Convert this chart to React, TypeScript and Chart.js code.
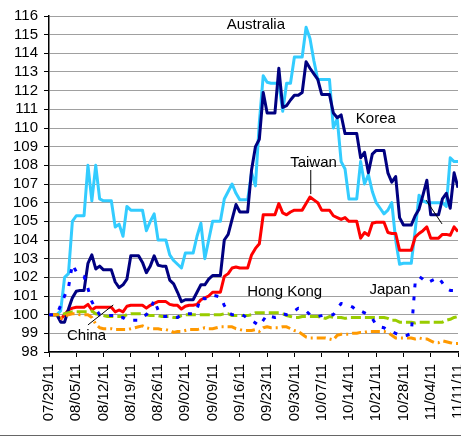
import React, { useEffect, useRef } from 'react';
import { Chart, registerables } from 'chart.js';

Chart.register(...registerables);

const FONT = "'Liberation Sans', Arial, Helvetica, sans-serif";

// Weekly tick labels (one every 7 calendar days, 07/29/11 .. 11/11/11)
const weekLabels = [
  '07/29/11', '08/05/11', '08/12/11', '08/19/11', '08/26/11', '09/02/11', '09/09/11', '09/16/11',
  '09/23/11', '09/30/11', '10/07/11', '10/14/11', '10/21/11', '10/28/11', '11/04/11', '11/11/11',
];

// Daily index values (calendar days from 07/29/11)
const australia = [
  100, 100, 100, 100.2, 102.0, 102.2, 105.0, 105.3, 105.3, 105.3,
  108.0, 106.1, 108.0, 106.2, 106.1, 106.1, 106.1, 104.7, 104.85, 104.2,
  105.8, 105.6, 105.6, 105.6, 105.6, 104.5, 105.0, 105.4, 104.0, 104.0,
  104.0, 103.2, 102.9, 102.7, 102.5, 103.3, 103.3, 103.3, 104.2, 104.9,
  103.0, 104.0, 105.0, 105.0, 105.0, 106.2, 106.6, 107.0, 106.5, 106.15,
  106.15, 106.15, 107.6, 106.9, 110.3, 112.8, 112.45, 112.4, 112.4, 112.4,
  110.9, 112.4, 112.4, 113.8, 113.8, 113.8, 115.4, 114.8, 113.6, 112.6,
  112.6, 112.6, 112.6, 110.0, 110.5, 108.2, 107.8, 106.2, 106.2, 106.2,
  108.2, 107.0, 107.5, 106.6, 106.0, 105.7, 105.4, 105.6, 106.0, 104.0,
  102.7, 102.75, 102.75, 102.75, 104.5, 106.4, 106.1, 106.0, 106.0, 106.0,
  106.0, 106.0, 105.8, 108.4, 108.2, 108.2,
];

const korea = [
  100, 100, 100, 99.6, 99.6, 100.3, 100.9, 101.25, 101.3, 101.3,
  102.75, 103.2, 102.45, 102.6, 102.4, 102.4, 102.4, 101.75, 101.45, 101.6,
  101.9, 103.15, 103.15, 103.15, 102.8, 102.25, 102.6, 103.15, 102.65, 102.6,
  102.6, 101.85, 101.65, 101.2, 100.7, 100.8, 100.8, 100.8, 101.2, 101.6,
  101.6, 101.9, 102.1, 102.1, 102.1, 104.0, 104.3, 105.1, 105.9, 105.5,
  105.5, 105.5, 107.75, 109.0, 109.4, 111.9, 110.8, 110.8, 110.8, 113.2,
  111.1, 111.2, 111.5, 111.75, 111.75, 111.9, 113.55, 113.2, 112.9, 112.6,
  111.8, 111.8, 111.8, 110.8, 110.55, 110.7, 109.7, 109.7, 109.7, 109.7,
  108.4, 108.7, 107.6, 108.6, 108.8, 108.8, 108.8, 107.6, 107.1, 107.4,
  105.2, 104.8, 104.8, 104.8, 105.3, 105.65, 106.4, 107.2, 105.35, 105.35,
  105.35, 106.2, 106.5, 105.7, 107.6, 106.8,
];

const taiwan = [
  100, 100, 100, 99.75, 100.0, 100.25, 100.35, 100.4, 100.4, 100.4,
  100.55, 100.25, 100.4, 100.4, 100.4, 100.4, 100.4, 100.15, 100.25, 100.15,
  100.45, 100.5, 100.5, 100.5, 100.5, 100.35, 100.5, 100.6, 100.7, 100.7,
  100.7, 100.55, 100.5, 100.5, 100.3, 100.45, 100.5, 100.5, 100.55, 100.8,
  100.9, 101.0, 101.2, 101.2, 101.2, 102.05, 102.2, 102.5, 102.55, 102.5,
  102.5, 102.5, 103.2, 103.55, 103.8, 105.35, 105.35, 105.35, 105.35, 105.95,
  105.45, 105.35, 105.5, 105.6, 105.6, 105.6, 105.95, 106.3, 106.15, 106.0,
  105.6, 105.6, 105.6, 105.3, 105.2, 105.1, 105.2, 105.0, 105.0, 105.0,
  104.1, 104.4, 104.25, 104.9, 104.95, 104.95, 104.95, 104.4, 104.35, 104.35,
  103.45, 103.45, 103.45, 103.45, 104.15, 104.35, 104.5, 104.7, 104.1, 104.1,
  104.1, 104.3, 104.3, 104.25, 104.7, 104.45,
];

const japan = [
  100, 100, 100, 100.5, 101.0, 101.45, 102.7, 102.3, 102.1, 102.05,
  101.4, 100.7, 100.3, 100.0, 100.0, 99.95, 99.95, 99.95, 99.8, 99.85,
  99.7, 99.7, 99.7, 99.7, 99.9, 100.0, 100.25, 100.8, 100.25, 99.9,
  99.9, 99.95, 99.9, 99.85, 100.0, 100.05, 100.05, 100.05, 100.3, 100.95,
  100.85, 100.9, 101.05, 101.0, 100.95, 100.5, 100.1, 100.0, 100.0, 100.05,
  99.95, 99.8, 99.7, 99.55, 99.4, 99.7, 100.0, 99.9, 99.85, 99.9,
  100.05, 100.0, 100.05, 100.2, 100.35, 100.3, 100.2, 100.0, 99.95, 99.9,
  99.95, 100.0, 100.0, 100.0, 100.3, 100.6, 100.55, 100.5, 100.4, 100.2,
  100.2, 100.1, 100.0, 99.8, 99.45, 99.35, 99.3, 99.15, 99.1, 99.0,
  98.9, 98.85, 98.9, 99.0, 101.7, 102.05, 101.9, 101.7, 101.8, 101.9,
  102.0, 101.7, 101.4, 101.3, 101.3, 101.3,
];

const hongKong = [
  100, 100, 100, 100.0, 100.05, 100.1, 100.15, 100.15, 100.15, 100.15,
  100.15, 100.2, 100.05, 100.0, 99.95, 99.9, 99.9, 99.9, 99.9, 99.9,
  100.0, 100.05, 100.05, 100.05, 100.05, 100.0, 99.95, 99.95, 99.95, 99.9,
  99.9, 99.9, 99.85, 99.85, 99.95, 100.0, 100.0, 100.0, 100.0, 100.0,
  100.0, 100.0, 100.0, 100.0, 100.0, 100.05, 100.05, 99.95, 99.95, 99.95,
  99.95, 99.95, 100.0, 100.1, 100.1, 100.1, 100.1, 100.1, 100.1, 100.1,
  100.05, 99.95, 99.9, 99.85, 99.85, 99.9, 99.9, 99.9, 99.9, 99.9,
  99.85, 99.8, 99.9, 99.85, 99.85, 99.85, 99.8, 99.85, 99.85, 99.85,
  99.85, 99.85, 99.85, 99.85, 99.85, 99.85, 99.85, 99.8, 99.7, 99.7,
  99.6, 99.6, 99.6, 99.6, 99.55, 99.6, 99.6, 99.6, 99.6, 99.6,
  99.6, 99.6, 99.7, 99.75, 99.85, 99.9,
];

const china = [
  100, 100, 100, 99.8, 99.9, 100.0, 100.05, 100.05, 100.0, 100.0,
  100.0, 99.85, 99.5, 99.3, 99.25, 99.25, 99.25, 99.2, 99.2, 99.2,
  99.2, 99.25, 99.3, 99.35, 99.4, 99.3, 99.25, 99.25, 99.25, 99.2,
  99.2, 99.15, 99.05, 99.1, 99.1, 99.15, 99.2, 99.2, 99.2, 99.25,
  99.3, 99.25, 99.25, 99.3, 99.35, 99.35, 99.35, 99.35, 99.25, 99.2,
  99.15, 99.15, 99.15, 99.2, 99.1, 99.3, 99.35, 99.3, 99.3, 99.3,
  99.35, 99.35, 99.25, 99.15, 99.1, 98.95, 98.8, 98.75, 98.75, 98.75,
  98.75, 98.75, 98.7, 98.65, 98.9, 98.95, 98.95, 98.95, 99.0, 99.0,
  99.05, 99.05, 99.1, 99.1, 99.1, 99.1, 99.1, 99.05, 98.9, 98.75,
  98.75, 98.75, 98.75, 98.75, 98.7, 98.75, 98.7, 98.7, 98.6, 98.5,
  98.5, 98.6, 98.55, 98.5, 98.45, 98.45,
];

// Text annotations placed in data units (day index, index value)
const noteTexts = ['Australia', 'Korea', 'Taiwan', 'Hong Kong', 'Japan', 'China'];
const noteDays = [53.1, 83.9, 67.9, 60.5, 87.5, 9.65];
const noteValues = [115.3, 110.27, 107.9, 101.0, 101.1, 98.64];
// Leader lines: [day1, value1, day2, value2]
const leaderLines = [
  [67.2, 107.75, 67.2, 106.46],
  [10.0, 99.45, 16.5, 100.52],
  [96.8, 106.14, 100.9, 104.86],
];

const notesPlugin = {
  id: 'notes',
  afterDatasetsDraw(chart: any) {
    const { ctx, scales } = chart;
    const x = scales.x;
    const y = scales.y;
    ctx.save();
    ctx.fillStyle = '#000';
    ctx.font = `15px ${FONT}`;
    ctx.textAlign = 'center';
    ctx.textBaseline = 'alphabetic';
    noteTexts.forEach((t, i) => {
      ctx.fillText(t, x.getPixelForValue(noteDays[i]), y.getPixelForValue(noteValues[i]));
    });
    ctx.strokeStyle = '#000';
    ctx.lineWidth = 1;
    leaderLines.forEach(([d1, v1, d2, v2]) => {
      ctx.beginPath();
      ctx.moveTo(x.getPixelForValue(d1), y.getPixelForValue(v1));
      ctx.lineTo(x.getPixelForValue(d2), y.getPixelForValue(v2));
      ctx.stroke();
    });
    ctx.restore();
  },
  afterDraw(chart: any) {
    const { ctx } = chart;
    ctx.save();
    ctx.strokeStyle = '#666';
    ctx.lineWidth = 1;
    ctx.beginPath();
    ctx.moveTo(0, chart.height - 1.5);
    ctx.lineTo(chart.width, chart.height - 1.5);
    ctx.stroke();
    ctx.restore();
  },
};

function series(label: string, values: number[], color: string, dash: number[]) {
  return {
    label,
    data: values.map((v, i) => ({ x: i, y: v })),
    borderColor: color,
    backgroundColor: color,
    borderWidth: 3,
    borderDash: dash,
    borderCapStyle: 'butt',
    borderJoinStyle: 'round',
    pointRadius: 0,
    tension: 0,
    fill: false,
  };
}

export default function App() {
  const ref = useRef<HTMLCanvasElement>(null);

  useEffect(() => {
    const canvas = ref.current;
    if (!canvas) return;
    const chart = new Chart(canvas, {
      type: 'line',
      data: {
        datasets: [
          series('Japan', japan, '#0000FF', [4, 9]),
          series('China', china, '#FF9900', [9, 4, 2, 4]),
          series('Hong Kong', hongKong, '#99CC00', [10, 4]),
          series('Korea', korea, '#000080', []),
          series('Taiwan', taiwan, '#FF0000', []),
          series('Australia', australia, '#33CCFF', []),
        ] as any,
      },
      options: {
        responsive: false,
        animation: false,
        devicePixelRatio: 1,
        layout: { padding: { top: 16, right: 3, left: 0, bottom: 0 } },
        plugins: {
          legend: { display: false },
          tooltip: { enabled: false },
          title: { display: false },
        },
        scales: {
          x: {
            type: 'linear',
            min: 0,
            max: 105,
            afterFit(scale: any) {
              scale.height = 85;
              scale.paddingLeft = 0;
              scale.paddingRight = 0;
            },
            grid: {
              drawOnChartArea: false,
              drawTicks: true,
              tickLength: 5,
              color: '#000',
              tickColor: '#000',
            },
            border: { display: true, color: '#000', width: 1.5 },
            ticks: {
              stepSize: 7,
              autoSkip: false,
              minRotation: 90,
              maxRotation: 90,
              padding: 7,
              color: '#000',
              font: { family: FONT, size: 15 },
              callback: (v: any) => {
                const k = Math.round(Number(v) / 7);
                return weekLabels[k] ?? '';
              },
            },
          },
          y: {
            type: 'linear',
            min: 98,
            max: 116,
            afterFit(scale: any) {
              scale.width = 49;
              scale.paddingTop = 0;
              scale.paddingBottom = 0;
            },
            grid: {
              color: '#a0a0a0',
              lineWidth: 1,
              tickLength: 5,
              tickColor: '#000',
            },
            border: { display: true, color: '#000', width: 1.5 },
            ticks: {
              stepSize: 1,
              autoSkip: false,
              padding: 6,
              color: '#000',
              font: { family: FONT, size: 15 },
            },
          },
        },
      } as any,
      plugins: [notesPlugin],
    });
    return () => chart.destroy();
  }, []);

  return (
    <div style={{ position: 'fixed', left: 0, top: 0, width: 461, height: 437, background: '#fff' }}>
      <canvas ref={ref} width={461} height={437} style={{ display: 'block', width: 461, height: 437 }} />
    </div>
  );
}
